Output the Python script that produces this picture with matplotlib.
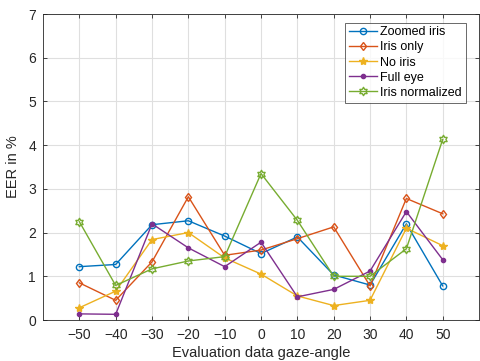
import matplotlib
matplotlib.use("Agg")
import matplotlib.pyplot as plt
from matplotlib.path import Path
import numpy as np

plt.rcParams['font.family'] = ['Liberation Sans', 'DejaVu Sans']

angles = [-50, -40, -30, -20, -10, 0, 10, 20, 30, 40, 50]
zoomed_iris = [1.22, 1.27, 2.18, 2.27, 1.92, 1.52, 1.90, 1.03, 0.80, 2.20, 0.78]
iris_only = [0.85, 0.45, 1.33, 2.82, 1.48, 1.60, 1.86, 2.13, 0.78, 2.78, 2.43]
no_iris = [0.28, 0.66, 1.84, 2.00, 1.42, 1.05, 0.55, 0.33, 0.45, 2.10, 1.70]
full_eye = [0.14, 0.13, 2.20, 1.65, 1.22, 1.78, 0.53, 0.70, 1.12, 2.48, 1.38]
iris_normalized = [2.25, 0.79, 1.17, 1.35, 1.45, 3.35, 2.28, 1.00, 1.00, 1.63, 4.13]

# hexagram marker (6-pointed star outline)
ang = np.pi / 2 + np.arange(12) * np.pi / 6
rad = np.where(np.arange(12) % 2 == 0, 1.0, 0.58)
verts = np.column_stack([rad * np.cos(ang), rad * np.sin(ang)])
verts = np.vstack([verts, verts[:1]])
hexagram = Path(verts, [Path.MOVETO] + [Path.LINETO] * 11 + [Path.CLOSEPOLY])

series = [
    ("Zoomed iris", zoomed_iris, '#0072BD', 'o', 4.5, 'none'),
    ("Iris only", iris_only, '#D95319', 'd', 4.5, 'none'),
    ("No iris", no_iris, '#EDB120', '*', 6, None),
    ("Full eye", full_eye, '#7E2F8E', '.', 6, None),
    ("Iris normalized", iris_normalized, '#77AC30', hexagram, 6, 'none'),
]

fig = plt.figure(figsize=(4.8, 3.61), dpi=100)
ax = fig.add_axes([43/480, 1-320/361, (480-43)/480 - 0.002, (320-14)/361])
for name, vals, col, mk, ms, mfc in series:
    kw = dict(color=col, marker=mk, markersize=ms, linewidth=1.0, label=name, markeredgewidth=1.0)
    if mfc is not None:
        kw['markerfacecolor'] = mfc
    ax.plot(angles, vals, **kw)

ax.set_xlim(-60, 60)
ax.set_ylim(0, 7)
ax.set_xticks(angles)
ax.set_yticks(range(0, 8))
ax.grid(True, color='#DFDFDF', linewidth=0.8)
ax.set_axisbelow(True)
for s in ax.spines.values():
    s.set_color('#262626')
    s.set_linewidth(0.6)
ax.tick_params(direction='in', length=3, width=0.6, labelsize=10, colors='#262626', top=True, right=True)
ax.tick_params(axis='x', pad=6)
ax.tick_params(axis='y', pad=5)
ax.set_xlabel('Evaluation data gaze-angle', fontsize=10.5, color='#262626', labelpad=3)
ax.set_ylabel('EER in %', fontsize=10.5, color='#262626', labelpad=6)
leg = ax.legend(loc='upper right', bbox_to_anchor=(0.975, 0.98), fontsize=9, frameon=True, fancybox=False,
                edgecolor='#262626', handlelength=2.2, handletextpad=0.3, borderpad=0.3, labelspacing=0.25,
                borderaxespad=0.2)
leg.get_frame().set_linewidth(0.6)
fig.savefig('out.png', dpi=100)
